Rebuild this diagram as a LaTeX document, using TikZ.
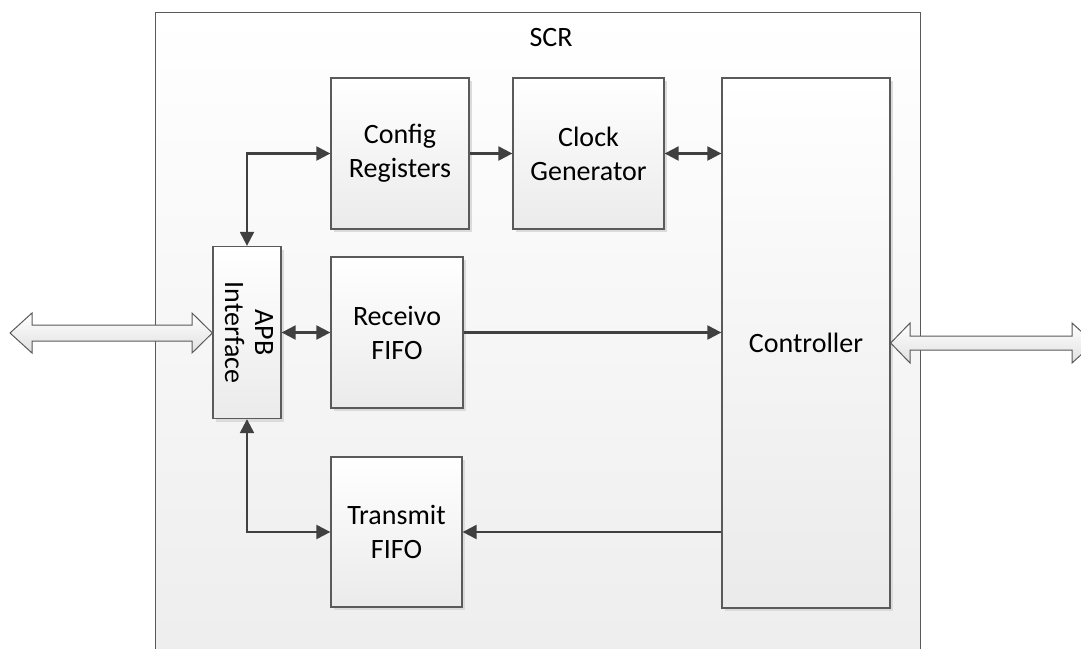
\documentclass[tikz,border=0pt]{standalone}
\usepackage{fontspec}
\setmainfont{Carlito}
\usetikzlibrary{arrows.meta,shadows}
\definecolor{linegray}{HTML}{404040}
\definecolor{boxborder}{HTML}{5A5A5A}
\tikzset{
  blk/.style={draw=boxborder, line width=1.3pt, top color=white, bottom color=black!8,
    align=center, inner sep=0pt, font=\fontsize{28}{34}\selectfont,
    drop shadow={shadow xshift=3pt, shadow yshift=-3pt, fill=black!14, opacity=1}},
  conn/.style={draw=linegray, line width=2.2pt, arrows={-Triangle[length=14pt,width=14pt]}},
  bconn/.style={draw=linegray, line width=2.2pt, arrows={Triangle[length=14pt,width=14pt]-Triangle[length=14pt,width=14pt]}},
  hollow/.style={draw=boxborder, line width=1pt, top color=white, bottom color=black!12, line join=miter}
}
\begin{document}
\begin{tikzpicture}[x=1pt,y=-1pt]
\clip (0,0) rectangle (1081,648);
\fill[white] (0,0) rectangle (1081,648);
% outer SCR box
\draw[draw=boxborder, line width=1pt, top color=white, bottom color=black!7] (155,12) rectangle (920,670);
\node[font=\fontsize{28}{34}\selectfont] (scr) at (551,38) {SCR};
% blocks
\node[blk, minimum width=138pt, minimum height=151pt] (cfg) at (400,153.5) {Config\\Registers};
\node[blk, minimum width=151pt, minimum height=151pt] (clk) at (588.5,153.5) {Clock\\Generator};
\node[blk, minimum width=168pt, minimum height=530pt] (ctrl) at (806,343) {Controller};
\node[blk, minimum width=68pt, minimum height=172pt] (apb) at (247,332.5)
  {\rotatebox[origin=c]{-90}{\begin{tabular}{@{}c@{}}APB\\[-4pt]Interface\end{tabular}}};
\node[blk, minimum width=132pt, minimum height=151pt] (rcv) at (397,332.5) {Receivo\\FIFO};
\node[blk, minimum width=131pt, minimum height=150pt] (tx) at (396.5,532) {Transmit\\FIFO};
% connectors
\draw[bconn] (apb.north) |- (cfg.west);
\draw[conn] (cfg.east) -- (clk.west);
\draw[bconn] (clk.east) -- (ctrl.west |- clk.east);
\draw[bconn] (apb.east) -- (rcv.west);
\draw[conn] (rcv.east) -- (ctrl.west |- rcv.east);
\draw[bconn] (apb.south) |- (tx.west);
\draw[conn] (ctrl.west |- tx.east) -- (tx.east);
% hollow external arrows
\coordinate (lt) at (apb.west |- 0,333);
\draw[hollow] (10,333) -- (32,313) -- (32,325) -- (192,325) -- (192,313) -- (lt) -- (192,353) -- (192,341) -- (32,341) -- (32,353) -- cycle;
\coordinate (rt) at (ctrl.east |- 0,343);
\draw[hollow] (rt) -- (910,323) -- (910,336) -- (1072,336) -- (1072,323) -- (1094,343) -- (1072,363) -- (1072,350) -- (910,350) -- (910,363) -- cycle;
\end{tikzpicture}
\end{document}
